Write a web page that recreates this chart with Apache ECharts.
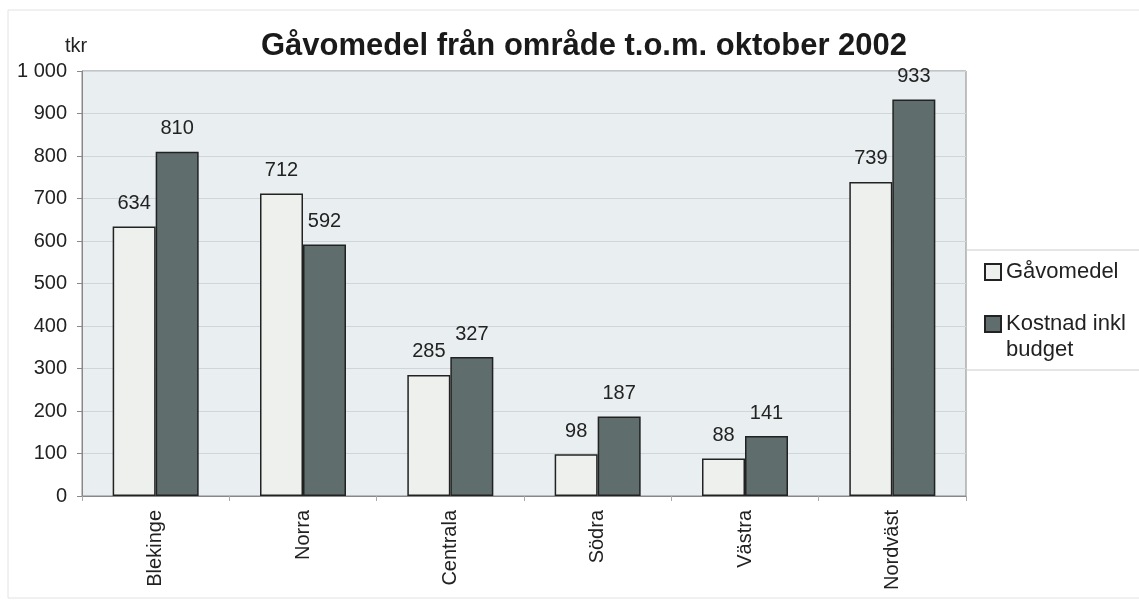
<!DOCTYPE html>
<html>
<head>
<meta charset="utf-8">
<script src="https://cdn.jsdelivr.net/npm/echarts@6/dist/echarts.min.js"></script>
<style>
html,body{margin:0;padding:0;background:#fff;}
#c{width:1139px;height:602px;}
</style>
</head>
<body>
<div id="c"></div>
<script>
const categories = ['Blekinge', 'Norra', 'Centrala', 'Södra', 'Västra', 'Nordväst'];
const gavomedel = [634, 712, 285, 98, 88, 739];
const kostnad = [810, 592, 327, 187, 141, 933];
const yTicks = [0, 100, 200, 300, 400, 500, 600, 700, 800, 900, 1000];

const chart = echarts.init(document.getElementById('c'));
const font = 'Liberation Sans, Arial, sans-serif';
chart.setOption({
  backgroundColor: '#fff',
  animation: false,
  title: {
    text: 'Gåvomedel från område t.o.m. oktober 2002',
    left: 579, top: 26, textAlign: 'center',
    textStyle: {fontFamily: font, fontSize: 31, fontWeight: 'bold', color: '#1a1a1a'}
  },
  graphic: [
    {type: 'rect', shape: {x: 8, y: 10, width: 1140, height: 588}, style: {fill: 'none', stroke: '#e2e2e2', lineWidth: 1}, silent: true},
    {type: 'text', left: 65, top: 36, style: {text: 'tkr', font: '20px ' + font, fill: '#222'}},
    {type: 'line', shape: {x1: 966, y1: 250, x2: 1139, y2: 250}, style: {stroke: '#ccc', lineWidth: 1}},
    {type: 'line', shape: {x1: 966, y1: 370, x2: 1139, y2: 370}, style: {stroke: '#ccc', lineWidth: 1}}
  ],
  legend: {
    orient: 'vertical', left: 979, top: 254, itemGap: 0,
    itemWidth: 16, itemHeight: 16, icon: 'rect',
    textStyle: {fontFamily: font, fontSize: 22, color: '#222', lineHeight: 26},
    formatter: n => n === 'Kostnad inkl budget' ? '\nKostnad inkl\nbudget' : n,
    data: ['Gåvomedel', 'Kostnad inkl budget']
  },
  grid: {left: 82, right: 173, top: 71, bottom: 106, show: true, backgroundColor: '#e9eef0', borderColor: '#888', borderWidth: 1},
  xAxis: {
    type: 'category', data: categories,
    axisLine: {lineStyle: {color: '#888'}},
    axisTick: {show: true, lineStyle: {color: '#aaa'}},
    axisLabel: {rotate: 90, fontFamily: font, fontSize: 20, color: '#222', margin: 14}
  },
  yAxis: {
    type: 'value', min: 0, max: 1000, interval: 100,
    axisLine: {show: true, lineStyle: {color: '#888'}},
    axisTick: {show: true, lineStyle: {color: '#888'}},
    splitLine: {lineStyle: {color: '#cfd5d8'}},
    axisLabel: {
      fontFamily: font, fontSize: 20, color: '#222', margin: 15,
      formatter: v => yTicks.includes(v) ? (v === 1000 ? '1 000' : String(v)) : ''
    }
  },
  series: [
    {
      name: 'Gåvomedel', type: 'bar', data: gavomedel, barWidth: 43, barGap: '0%',
      itemStyle: {color: '#eef0ee', borderColor: '#222', borderWidth: 1.5},
      label: {show: true, position: 'top', distance: 13, fontFamily: font, fontSize: 20, color: '#222'}
    },
    {
      name: 'Kostnad inkl budget', type: 'bar', data: kostnad, barWidth: 43,
      itemStyle: {color: '#5f6e6c', borderColor: '#222', borderWidth: 1.5},
      label: {show: true, position: 'top', distance: 13, fontFamily: font, fontSize: 20, color: '#222'}
    }
  ]
});
</script>
</body>
</html>
